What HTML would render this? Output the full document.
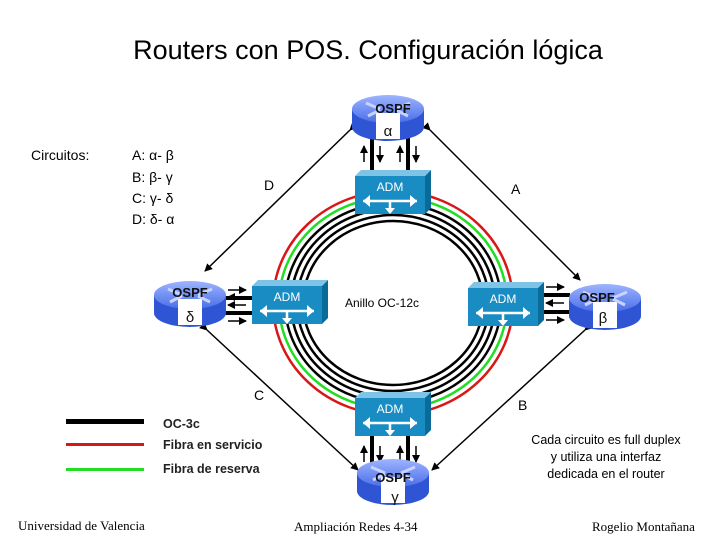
<!DOCTYPE html>
<html><head><meta charset="utf-8"><style>
body{margin:0;background:#fff;width:720px;height:540px;overflow:hidden}
svg text{font-family:"Liberation Sans",sans-serif}
svg text.serif{font-family:"Liberation Serif",serif}
</style></head><body>
<svg width="720" height="540" viewBox="0 0 720 540" xmlns="http://www.w3.org/2000/svg">
<defs>
<marker id="ah" markerWidth="8" markerHeight="8" refX="7" refY="4" orient="auto" markerUnits="userSpaceOnUse"><path d="M0,0 L8,4 L0,8z" fill="#000"/></marker>
<linearGradient id="rt" x1="0" y1="0" x2="0" y2="1"><stop offset="0" stop-color="#9db4ff"/><stop offset="1" stop-color="#4a6ee8"/></linearGradient>
<g id="router">
<path d="M-36,0 L-36,18 A36,14 0 0 0 36,18 L36,0z" fill="#2f55d4"/>
<ellipse cx="0" cy="0" rx="36" ry="14" fill="url(#rt)"/>
<rect x="-12" y="4" width="24" height="26" fill="#fff"/>
<path d="M-22,-6 L-8,0 M22,-6 L8,0 M-20,7 L-8,1 M20,7 L8,1" stroke="#c8d4ff" stroke-width="3"/>
</g>
<g id="adm">
<path d="M0,6 L6,0 L76,0 L70,6z" fill="#7fc3e6"/>
<path d="M70,6 L76,0 L76,38 L70,44z" fill="#0a6a98"/>
<rect x="0" y="6" width="70" height="38" fill="#1a8cc4"/>
<text x="35" y="21" font-size="12" fill="#fff" text-anchor="middle">ADM</text>
<path d="M8,31 L62,31" stroke="#fff" stroke-width="2.5"/>
<path d="M8,31 L15,25 L15,37z M62,31 L55,25 L55,37z" fill="#fff"/>
<path d="M35,31 L35,40" stroke="#fff" stroke-width="2.5"/><path d="M30,38 L40,38 L35,44z" fill="#fff"/>
</g>
</defs>
<text x="368" y="59" font-size="27" text-anchor="middle">Routers con POS. Configuración lógica</text>
<text x="31" y="160" font-size="14">Circuitos:</text>
<text x="132" y="160" font-size="14">A: α- β</text>
<text x="132" y="182" font-size="14">B: β- γ</text>
<text x="132" y="203" font-size="14">C: γ- δ</text>
<text x="132" y="224" font-size="14">D: δ- α</text>
<g fill="none" stroke-width="2.5">
<ellipse cx="393" cy="303" rx="120" ry="112" stroke="#d81818"/>
<ellipse cx="393" cy="303" rx="114" ry="106" stroke="#22dd22"/>
<ellipse cx="393" cy="303" rx="108" ry="100" stroke="#000"/>
<ellipse cx="393" cy="303" rx="102" ry="94" stroke="#000"/>
<ellipse cx="393" cy="303" rx="96" ry="88" stroke="#000"/>
<ellipse cx="393" cy="303" rx="90" ry="82" stroke="#000"/>
</g>
<g stroke="#000" stroke-width="1.5" marker-end="url(#ah)" marker-start="url(#ah)">
<line x1="350" y1="130" x2="205" y2="271"/>
<line x1="430" y1="130" x2="580" y2="280"/>
<line x1="207" y1="330" x2="358" y2="470"/>
<line x1="585" y1="330" x2="432" y2="470"/>
</g>
<g stroke="#000" stroke-width="4"><line x1="372" y1="130" x2="372" y2="172"/><line x1="408" y1="130" x2="408" y2="172"/>
<line x1="372" y1="430" x2="372" y2="468"/><line x1="408" y1="430" x2="408" y2="468"/>
<line x1="225" y1="298" x2="252" y2="298"/><line x1="225" y1="313" x2="252" y2="313"/>
<line x1="540" y1="295" x2="570" y2="295"/><line x1="540" y1="312" x2="570" y2="312"/></g>
<g stroke="#000" stroke-width="1.5" marker-end="url(#ah)">
<line x1="364" y1="162" x2="364" y2="146"/><line x1="380" y1="146" x2="380" y2="162"/>
<line x1="400" y1="162" x2="400" y2="146"/><line x1="416" y1="146" x2="416" y2="162"/>
<line x1="364" y1="462" x2="364" y2="446"/><line x1="380" y1="446" x2="380" y2="462"/>
<line x1="400" y1="462" x2="400" y2="446"/><line x1="416" y1="446" x2="416" y2="462"/>
<line x1="228" y1="290" x2="246" y2="290"/><line x1="246" y1="305" x2="228" y2="305"/>
<line x1="228" y1="321" x2="246" y2="321"/><line x1="246" y1="297" x2="228" y2="297"/>
<line x1="546" y1="287" x2="564" y2="287"/><line x1="564" y1="303" x2="546" y2="303"/>
<line x1="546" y1="320" x2="564" y2="320"/>
</g>
<use href="#adm" x="355" y="170"/>
<use href="#adm" x="252" y="280"/>
<use href="#adm" x="468" y="282"/>
<use href="#adm" x="355" y="392"/>
<use href="#router" x="388" y="109"/>
<use href="#router" x="190" y="295"/>
<use href="#router" x="605" y="298"/>
<use href="#router" x="393" y="473"/>
<g font-size="13" font-weight="bold" text-anchor="middle" fill="#111">
<text x="393" y="113">OSPF</text><text x="388" y="136" font-weight="normal" font-size="15">α</text>
<text x="190" y="297">OSPF</text><text x="190" y="322" font-weight="normal" font-size="15">δ</text>
<text x="597" y="302">OSPF</text><text x="603" y="323" font-weight="normal" font-size="15">β</text>
<text x="393" y="482">OSPF</text><text x="395" y="502" font-weight="normal" font-size="15">γ</text>
</g>
<g font-size="14"><text x="264" y="190">D</text><text x="511" y="194">A</text><text x="254" y="400">C</text><text x="518" y="410">B</text></g>
<text x="345" y="307" font-size="12">Anillo OC-12c</text>
<rect x="66" y="419" width="78" height="5" fill="#000"/>
<rect x="66" y="443" width="78" height="3" fill="#d81818"/>
<rect x="66" y="468" width="78" height="3" fill="#22dd22"/>
<g font-size="12.5" font-weight="bold" fill="#222"><text x="163" y="428">OC-3c</text><text x="163" y="449">Fibra en servicio</text><text x="163" y="473">Fibra de reserva</text></g>
<g font-size="12.5" text-anchor="middle"><text x="606" y="444">Cada circuito es full duplex</text><text x="606" y="461">y utiliza una interfaz</text><text x="606" y="478">dedicada en el router</text></g>
<text class="serif" x="18" y="530" font-size="13">Universidad de Valencia</text>
<text class="serif" x="294" y="531" font-size="13">Ampliación Redes 4-34</text>
<text class="serif" x="592" y="531" font-size="13">Rogelio Montañana</text>
</svg>
</body></html>
